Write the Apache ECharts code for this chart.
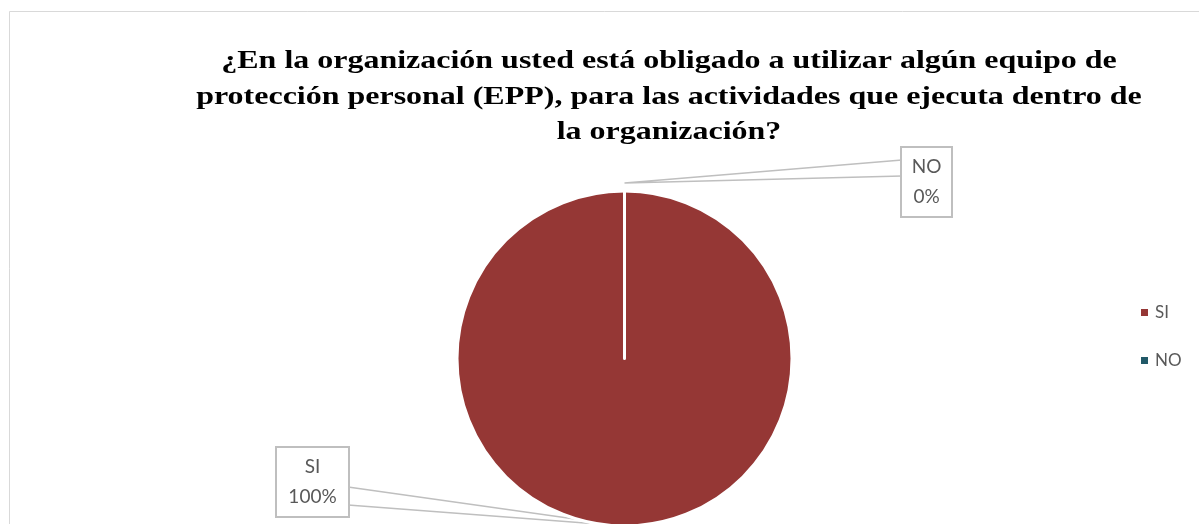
<!DOCTYPE html>
<html>
<head>
<meta charset="utf-8">
<script src="https://cdn.jsdelivr.net/npm/echarts@6/dist/echarts.min.js"></script>
<style>
  html, body { margin: 0; padding: 0; background: #fff; }
  #chart { width: 1199px; height: 524px; }
</style>
</head>
<body>
<div id="chart"></div>
<script>
// datos del gráfico
const categorias = ['SI', 'NO'];
const valores = [100, 0];
const colores = ['#953735', '#215968'];

const titulo = '¿En la organización usted está obligado a utilizar algún equipo de\nprotección personal (EPP), para las actividades que ejecuta dentro de\nla organización?';

// posición de las cajas de etiqueta (esquina superior izquierda)
const cajas = [
    { x: 277, y: 448, w: 71, lado: 'right', y1: 39, y2: 57 },
    { x: 902, y: 148, w: 49, lado: 'left', y1: 12, y2: 28 }
];

const chart = echarts.init(document.getElementById('chart'));

chart.setOption({
    backgroundColor: '#fff',
    animation: false,
    legend: {
        orient: 'vertical',
        left: 1139,
        top: 304,
        padding: 0,
        itemWidth: 9,
        itemHeight: 9,
        itemGap: 31,
        icon: 'rect',
        data: categorias,
        textStyle: { fontFamily: 'Lato', fontSize: 17, color: '#595959', padding: [0, 0, 0, 1] }
    },
    graphic: [{
        type: 'rect',
        silent: true,
        shape: { x: 9.5, y: 11.5, width: 1300, height: 700 },
        style: { fill: 'none', stroke: '#d9d9d9', lineWidth: 1 }
    }, {
        // título (la fuente original es más ancha que Times)
        type: 'text',
        silent: true,
        x: 669,
        y: 44,
        scaleX: 1.279,
        style: {
            text: titulo,
            align: 'center',
            verticalAlign: 'top',
            fontFamily: 'Liberation Serif',
            fontWeight: 'bold',
            fontSize: 25,
            lineHeight: 35.5,
            fill: '#000'
        }
    }],
    series: [{
        type: 'pie',
        center: [624.5, 358.5],
        radius: 167.5,
        startAngle: 90,
        clockwise: true,
        avoidLabelOverlap: false,
        itemStyle: { borderColor: '#fff', borderWidth: 3 },
        label: {
            show: true,
            position: 'outside',
            formatter: '{b}\n{d}%',
            fontFamily: 'Lato',
            fontSize: 19,
            lineHeight: 30,
            color: '#595959',
            align: 'center',
            backgroundColor: '#fff',
            borderColor: '#bfbfbf',
            borderWidth: 2,
            padding: [4, 0, 4, 0]
        },
        labelLine: {
            show: true,
            length: 5,
            length2: 5,
            lineStyle: { color: '#bfbfbf', width: 1.5 }
        },
        labelLayout: function (params) {
            const c = cajas[params.dataIndex];
            const pts = params.labelLinePoints;
            const punta = pts ? pts[0].slice() : [624.5, 190];
            if (params.dataIndex === 1) punta[1] -= 8;
            const bx = c.lado === 'left' ? c.x : c.x + c.w;
            return {
                x: c.x + c.w / 2,
                y: c.y,
                width: c.w,
                align: 'center',
                verticalAlign: 'top',
                labelLinePoints: [[bx, c.y + c.y1], punta, [bx, c.y + c.y2]]
            };
        },
        data: categorias.map((n, i) => ({
            name: n,
            value: valores[i],
            itemStyle: { color: colores[i] }
        }))
    }]
});
</script>
</body>
</html>
